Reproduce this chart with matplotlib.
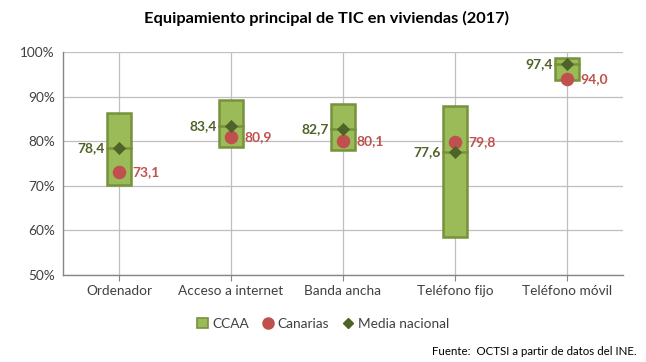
import matplotlib
matplotlib.use("Agg")
import matplotlib.pyplot as plt
from matplotlib.patches import Patch
from matplotlib.lines import Line2D

plt.rcParams['font.family'] = ['Lato', 'DejaVu Sans']

categories = ["Ordenador", "Acceso a internet", "Banda ancha", "Teléfono fijo", "Teléfono móvil"]
ccaa_min = [70.1, 78.7, 78.0, 58.5, 93.7]
ccaa_max = [86.4, 89.2, 88.4, 87.9, 98.7]
canarias = [73.1, 80.9, 80.1, 79.8, 94.0]
media = [78.4, 83.4, 82.7, 77.6, 97.4]
yticks = [50, 60, 70, 80, 90, 100]

fill_c = "#9BBB59"
edge_c = "#76923C"
dark_c = "#4F6228"
red_c = "#C0504D"
grid_c = "#BFBFBF"
text_c = "#404040"

fig = plt.figure(figsize=(6.46, 3.62), dpi=100)
ax = fig.add_axes([0.0975, 0.2403, 0.8665, 0.6161])

x = list(range(len(categories)))
w = 0.21
heights = [hi - lo for lo, hi in zip(ccaa_min, ccaa_max)]
ax.bar(x, heights, bottom=ccaa_min, width=w, color=fill_c, edgecolor=edge_c, linewidth=1.8, zorder=3)
for xi, m in zip(x, media):
    ax.plot([xi - w / 2, xi + w / 2], [m, m], color=edge_c, lw=1.8, zorder=4)
ax.scatter(x, canarias, s=95, color=red_c, zorder=5, linewidths=0)
ax.scatter(x, media, s=45, marker="D", color=dark_c, zorder=6, linewidths=0)

for xi, m, c in zip(x, media, canarias):
    ax.text(xi - w / 2 - 0.02, m, f"{m:.1f}".replace(".", ","), ha="right", va="center",
            color=dark_c, fontsize=10, fontweight="bold", zorder=7)
    ax.text(xi + 0.12, c, f"{c:.1f}".replace(".", ","), ha="left", va="center",
            color=red_c, fontsize=10, fontweight="bold", zorder=7)

ax.set_xlim(-0.5, 4.5)
ax.set_ylim(50, 100)
ax.set_yticks(yticks)
ax.set_yticklabels([f"{v}%" for v in yticks])
ax.set_xticks(x)
ax.set_xticklabels(categories)
ax.tick_params(axis="both", labelsize=9.8, colors=text_c, length=4, color="#868686")
ax.tick_params(axis="y", length=0, pad=6)
ax.grid(True, color=grid_c, lw=0.9, zorder=0)
for s in ["top", "right"]:
    ax.spines[s].set_visible(False)
for s in ["left", "bottom"]:
    ax.spines[s].set_color("#868686")
    ax.spines[s].set_linewidth(1)

fig.text(0.505, 0.95, "Equipamiento principal de TIC en viviendas (2017)", ha="center", va="center",
         fontsize=11.8, fontweight="bold", color="black")

handles = [
    Patch(facecolor=fill_c, edgecolor=edge_c, linewidth=1.2, label="CCAA"),
    Line2D([], [], marker="o", color=red_c, linestyle="none", markersize=8, label="Canarias"),
    Line2D([], [], marker="D", color=dark_c, linestyle="none", markersize=5, label="Media nacional"),
]
fig.legend(handles=handles, loc="center", bbox_to_anchor=(0.5, 0.105), ncol=3, frameon=False,
           fontsize=9.8, handlelength=0.8, handletextpad=0.3, columnspacing=1.0, labelcolor=text_c)

fig.text(0.985, 0.03, "Fuente:  OCTSI a partir de datos del INE.", ha="right", va="center",
         fontsize=8.3, color="black")

fig.savefig("out.png", dpi=100)
